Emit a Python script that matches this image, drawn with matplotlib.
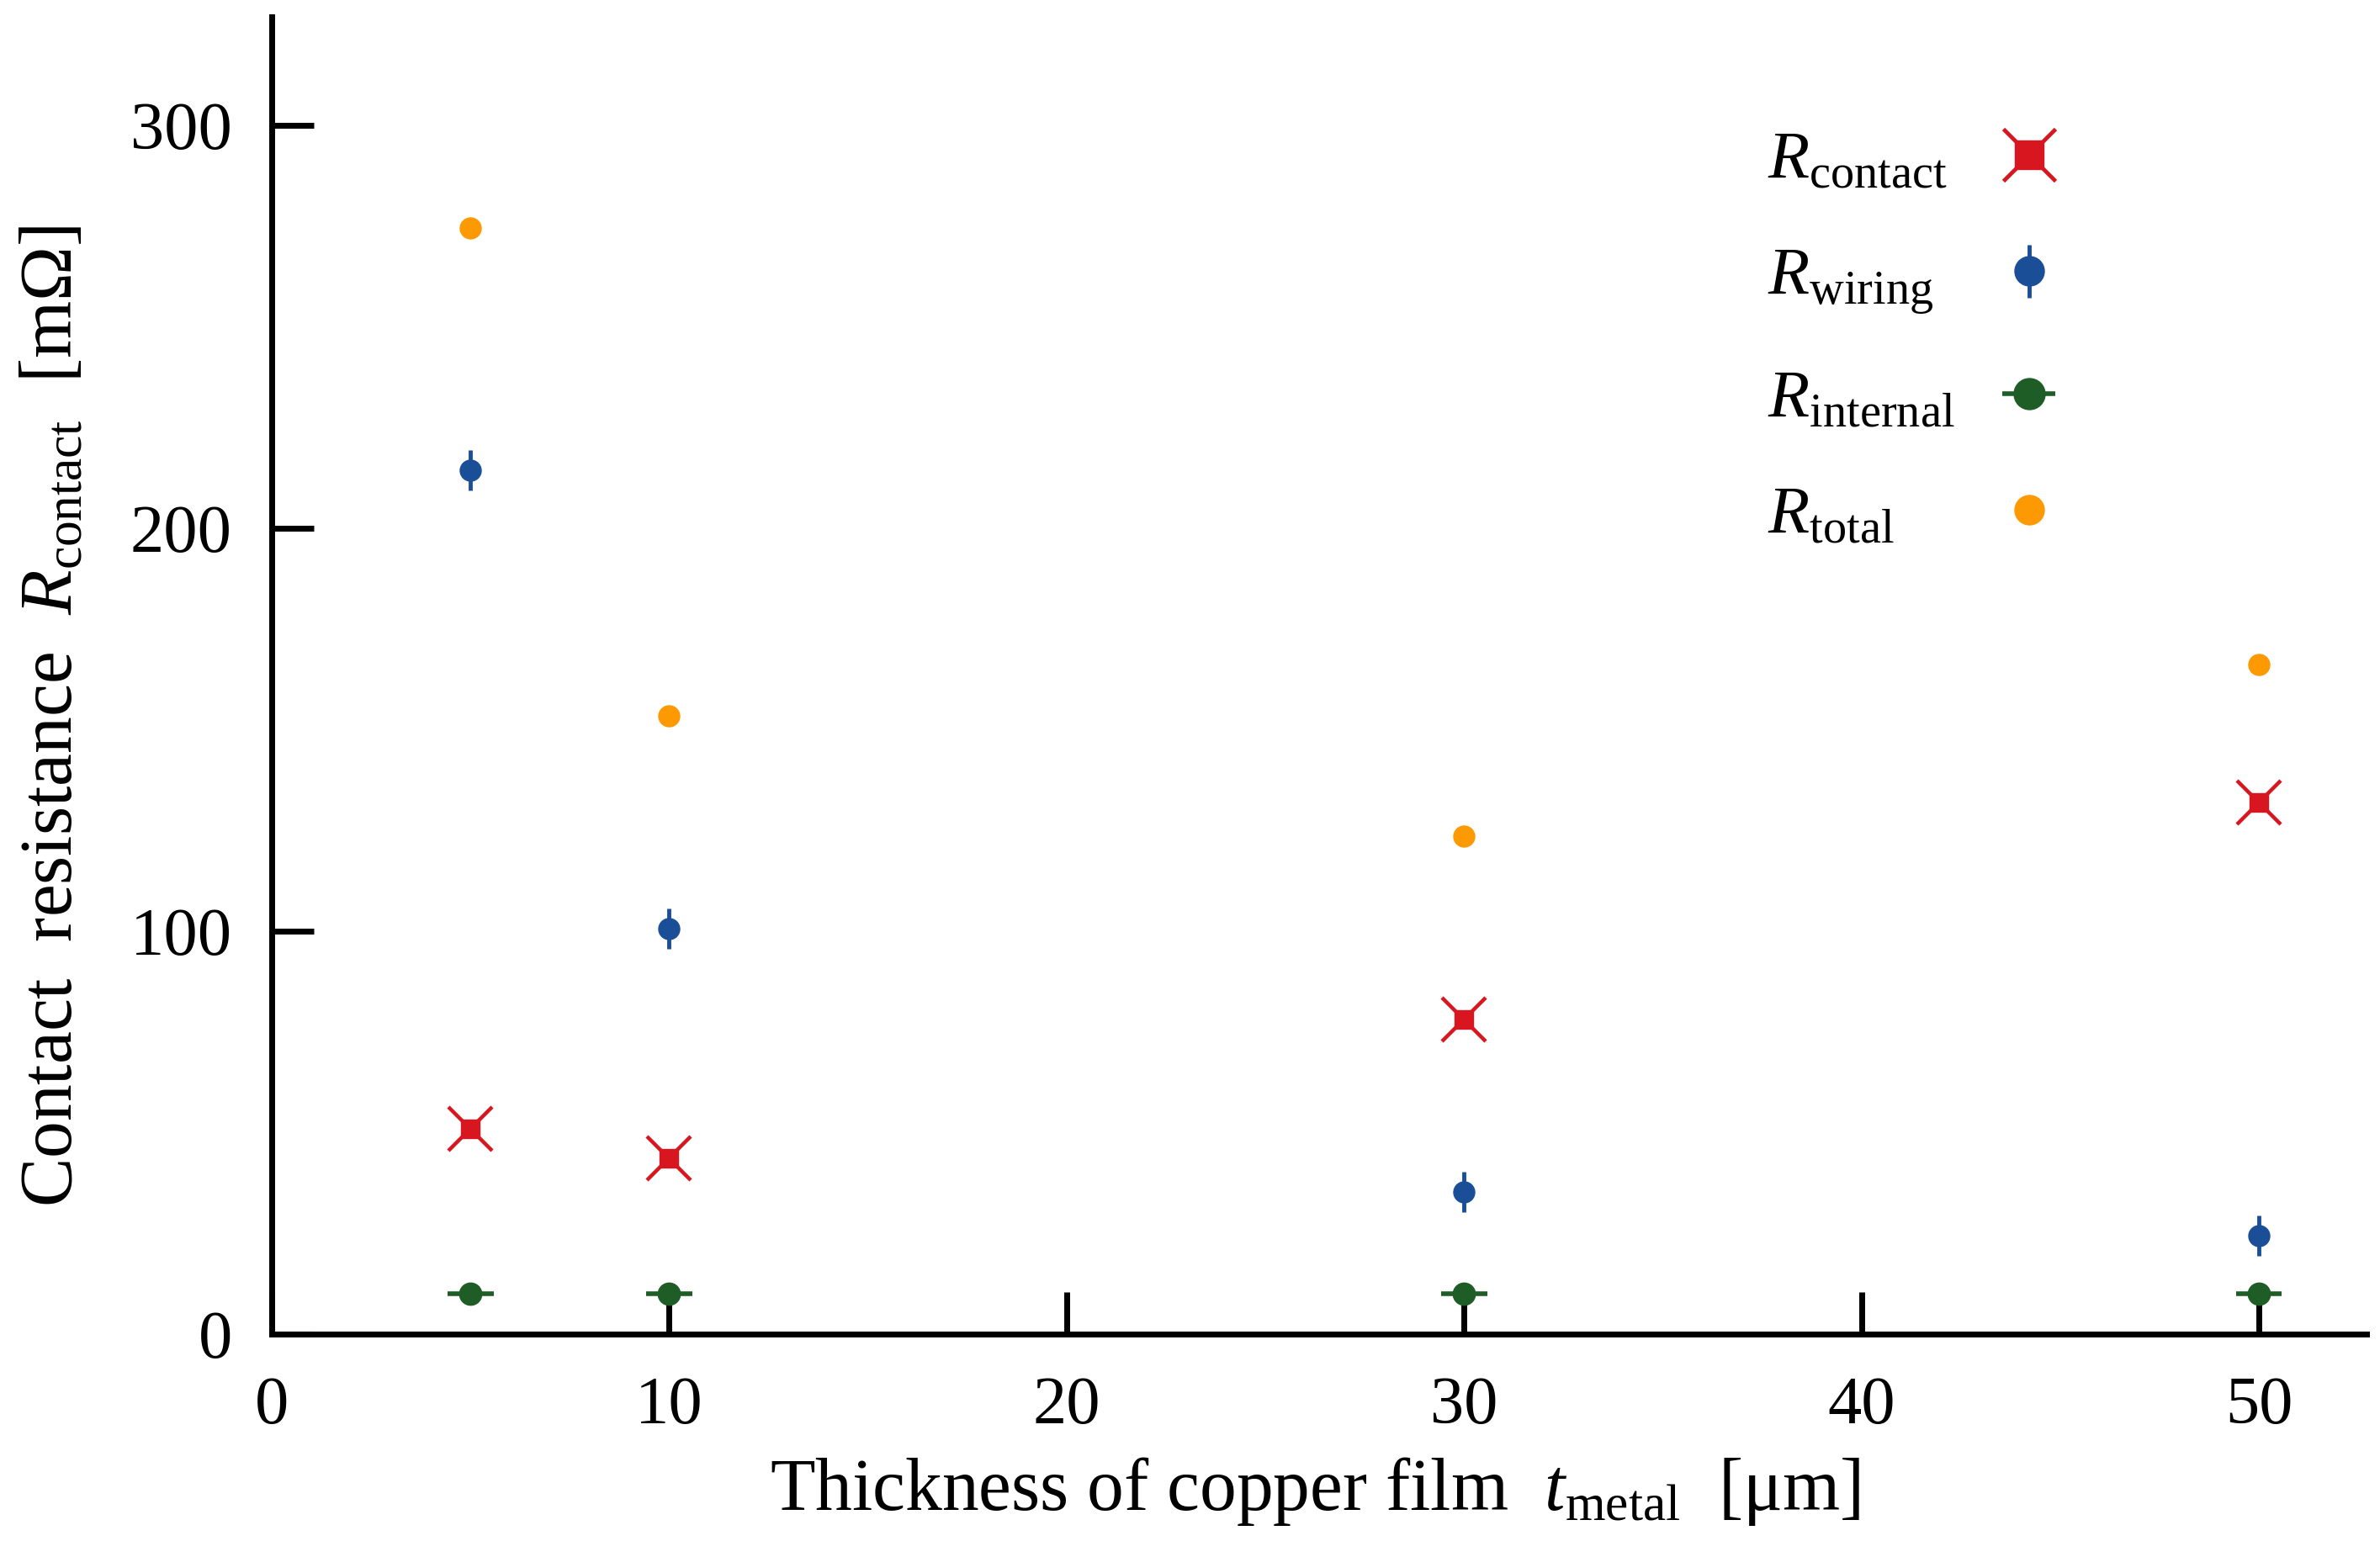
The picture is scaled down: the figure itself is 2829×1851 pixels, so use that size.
import matplotlib
matplotlib.use("Agg")
import matplotlib.pyplot as plt
from matplotlib.lines import Line2D
from matplotlib.legend_handler import HandlerErrorbar

plt.rcParams["font.family"] = ["Liberation Serif", "DejaVu Serif"]
plt.rcParams["mathtext.fontset"] = "custom"
plt.rcParams["mathtext.rm"] = "Liberation Serif"
plt.rcParams["mathtext.it"] = "Liberation Serif:italic"

# data (thickness in um, resistance in mOhm)
thickness = [5, 10, 30, 50]
r_contact = [51.0, 43.7, 78.0, 132.0]
r_wiring = [214.5, 100.6, 35.2, 24.4]
r_wiring_err = [5.0, 5.0, 5.0, 5.0]
r_internal = [10.0, 10.0, 10.0, 10.0]
r_internal_xerr = [0.58, 0.58, 0.58, 0.58]
r_total = [274.6, 153.4, 123.7, 166.2]

x_ticks = [0, 10, 20, 30, 40, 50]
y_ticks = [0, 100, 200, 300]
legend_labels = [r"$R_{\mathrm{contact}}$", r"$R_{\mathrm{wiring}}$",
                 r"$R_{\mathrm{internal}}$", r"$R_{\mathrm{total}}$"]

RED = "#d7161f"
BLUE = "#1a4f98"
GREEN = "#1f5d27"
ORANGE = "#fd9a03"
FS = 58
LABEL_FS = 63

fig = plt.figure(figsize=(28.29, 18.51), dpi=100, facecolor="white")
ax = fig.add_axes((0.1142, 0.1432, 0.880, 0.846))
ax.set_xlim(0, 52.7)
ax.set_ylim(0, 327)

# contact: filled square with an X through it
ax.plot(thickness, r_contact, ls="none", marker="x", ms=37, mew=3.2, color=RED, zorder=3)
ax.plot(thickness, r_contact, ls="none", marker="s", ms=16, color=RED, zorder=3)
wiring = ax.errorbar(thickness, r_wiring, yerr=r_wiring_err, fmt="o", ms=18, color=BLUE,
                     elinewidth=3.5, capsize=0, zorder=3)
internal = ax.errorbar(thickness, r_internal, xerr=r_internal_xerr, fmt="o", ms=19, color=GREEN,
                       elinewidth=4.0, capsize=0, zorder=3)
total, = ax.plot(thickness, r_total, ls="none", marker="o", ms=18, color=ORANGE, zorder=3)

for side in ("top", "right"):
    ax.spines[side].set_visible(False)
for side in ("left", "bottom"):
    ax.spines[side].set_linewidth(5)
ax.set_xticks(x_ticks)
ax.set_yticks(y_ticks)
ax.tick_params(direction="in", length=36, width=5, labelsize=FS)
ax.tick_params(axis="x", pad=36)
ax.tick_params(axis="y", pad=34)

ax.set_xlabel(r"Thickness of copper film  $t_{\mathrm{metal}}$  [μm]", fontsize=LABEL_FS, va="top")
ax.xaxis.set_label_coords(0.498, -0.092)
ax.set_ylabel(r"Contact  resistance  $R_{\mathrm{contact}}$  [mΩ]", fontsize=LABEL_FS, va="center")
ax.yaxis.set_label_coords(-0.104, 0.469)

# legend: labels left-aligned, symbols in a column to their right
common = dict(frameon=False, fontsize=FS, labelspacing=0.8, borderpad=0, borderaxespad=0,
              loc="upper left", bbox_to_anchor=(0.714, 0.913))
blank = [Line2D([], [], ls="none") for _ in legend_labels]
leg_text = ax.legend(blank, legend_labels, handlelength=0, handletextpad=0, **common)
ax.add_artist(leg_text)

contact_handle = (Line2D([], [], ls="none", marker="x", ms=32, mew=3.4, color=RED),
                  Line2D([], [], ls="none", marker="s", ms=17, color=RED))
leg_marks = ax.legend([contact_handle, wiring, internal, total], legend_labels,
                      markerfirst=False, markerscale=1.4, handlelength=1.4, handletextpad=0.4,
                      handler_map={type(wiring): HandlerErrorbar(xerr_size=0.39)}, **common)
for t in leg_marks.get_texts():
    t.set_alpha(0)

fig.savefig("out.png", dpi=100, facecolor="white")
